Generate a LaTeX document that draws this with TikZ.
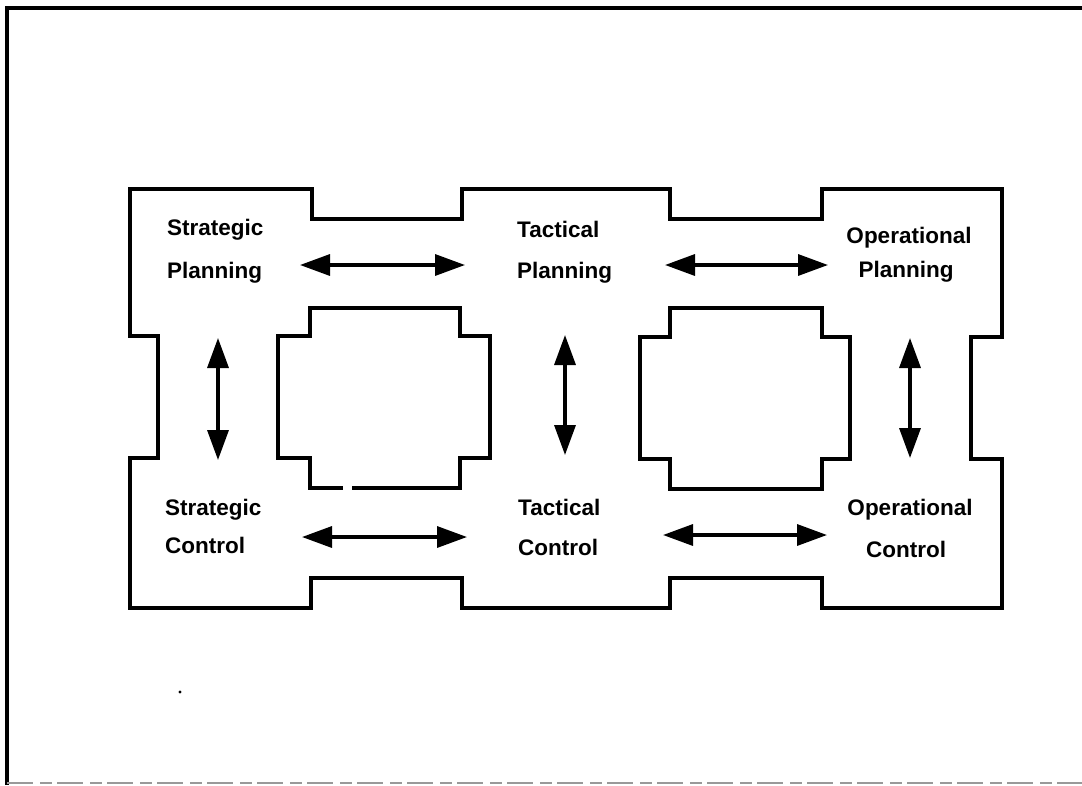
\documentclass[tikz,border=0pt]{standalone}
\usepackage{fontspec}
\setmainfont{Liberation Sans}
\usetikzlibrary{arrows.meta}
\begin{document}
\begin{tikzpicture}[x=1pt,y=-1pt,
  outline/.style={line width=3.6pt, line join=miter},
  frameline/.style={line width=4pt},
  link/.style={line width=3.4pt,
    {Triangle[length=30pt,width=21pt]}-{Triangle[length=30pt,width=21pt]}},
  lbl/.style={font=\bfseries\fontsize{22.5}{27}\selectfont, inner sep=0pt}]
\useasboundingbox (0,0) rectangle (1082,785);

% page frame
\draw[frameline] (7,785) -- (7,8) -- (1082,8);
\draw[black!40, line width=1.6pt, dash pattern=on 26pt off 7pt on 12pt off 5pt]
  (7,783) -- (1082,783);
\fill (180,692) circle (1.6pt);

% outer outline of the six linked functions
\draw[outline]
  (130,189) -- (312,189) -- (312,219) -- (462,219) -- (462,189)
  -- (670,189) -- (670,219) -- (822,219) -- (822,189) -- (1002,189)
  -- (1002,337) -- (971,337) -- (971,459) -- (1002,459) -- (1002,608)
  -- (822,608) -- (822,578) -- (670,578) -- (670,608) -- (462,608)
  -- (462,578) -- (311,578) -- (311,608) -- (130,608) -- (130,458)
  -- (158,458) -- (158,336) -- (130,336) -- cycle;

% left inner hole (with a small break in its lower edge)
\draw[outline]
  (352,488) -- (460,488) -- (460,458) -- (490,458) -- (490,336)
  -- (460,336) -- (460,308) -- (310,308) -- (310,336) -- (278,336)
  -- (278,458) -- (310,458) -- (310,488) -- (343,488);

% right inner hole
\draw[outline]
  (670,308) -- (822,308) -- (822,337) -- (850,337) -- (850,459)
  -- (822,459) -- (822,489) -- (670,489) -- (670,459) -- (640,459)
  -- (640,337) -- (670,337) -- cycle;

% labels
\node[lbl, anchor=base west] (sp1) at (167,235) {Strategic};
\node[lbl, anchor=base west] (sp2) at (167,278) {Planning};
\node[lbl, anchor=base west] (tp1) at (517,237) {Tactical};
\node[lbl, anchor=base west] (tp2) at (517,278) {Planning};
\node[lbl, anchor=base] (op1) at (909,243) {Operational};
\node[lbl, anchor=base] (op2) at (906,277) {Planning};
\node[lbl, anchor=base west] (sc1) at (165,515) {Strategic};
\node[lbl, anchor=base west] (sc2) at (165,553) {Control};
\node[lbl, anchor=base west] (tc1) at (518,515) {Tactical};
\node[lbl, anchor=base west] (tc2) at (518,555) {Control};
\node[lbl, anchor=base] (oc1) at (910,515) {Operational};
\node[lbl, anchor=base] (oc2) at (906,557) {Control};

% arrow end points
\coordinate (h1a) at (300,265); \coordinate (h1b) at (465,265);
\coordinate (h2a) at (665,265); \coordinate (h2b) at (828,265);
\coordinate (h3a) at (302,537); \coordinate (h3b) at (467,537);
\coordinate (h4a) at (663,535); \coordinate (h4b) at (827,535);
\coordinate (v1a) at (218,338); \coordinate (v1b) at (218,460);
\coordinate (v2a) at (565,335); \coordinate (v2b) at (565,455);
\coordinate (v3a) at (910,338); \coordinate (v3b) at (910,458);

% two-way links
\draw[link] (h1a) -- (h1b);
\draw[link] (h2a) -- (h2b);
\draw[link] (h3a) -- (h3b);
\draw[link] (h4a) -- (h4b);
\draw[link] (v1a) -- (v1b);
\draw[link] (v2a) -- (v2b);
\draw[link] (v3a) -- (v3b);
\end{tikzpicture}
\end{document}
